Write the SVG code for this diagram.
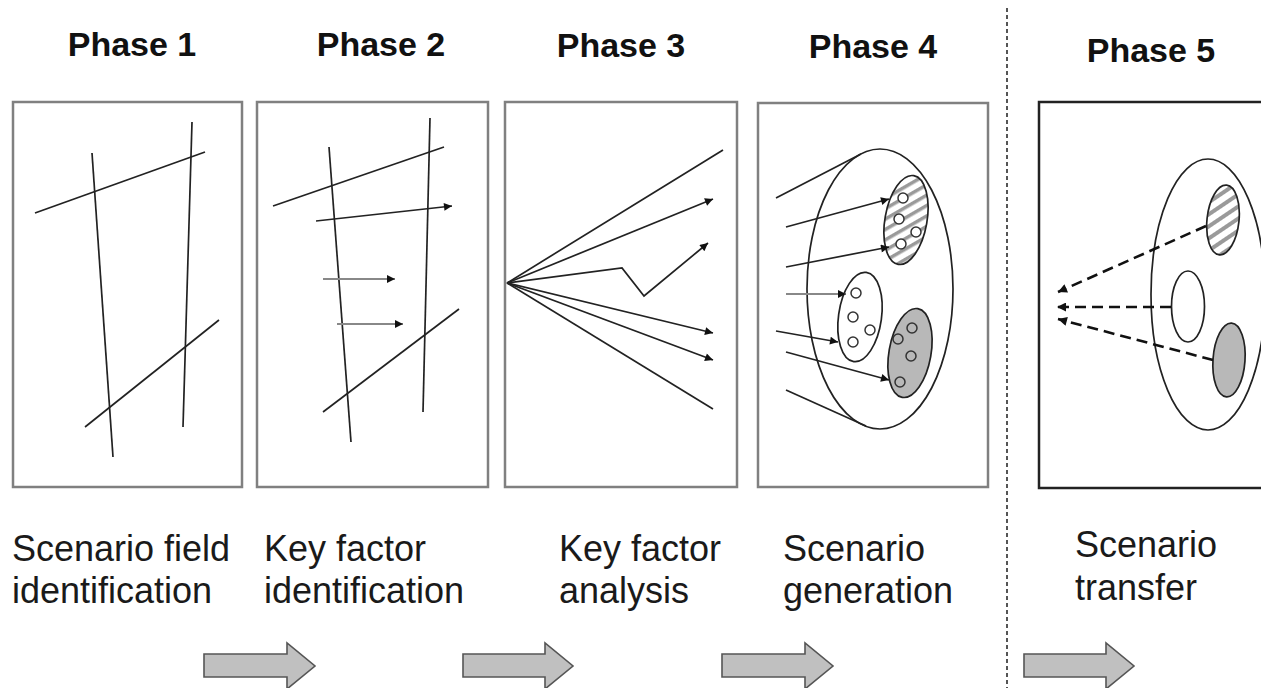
<svg xmlns="http://www.w3.org/2000/svg" width="1261" height="688" viewBox="0 0 1261 688">
<style>
.hdr{font-family:"Liberation Sans",Arial,sans-serif;font-weight:bold;font-size:34px;fill:#111;text-anchor:middle}
.lbl{font-family:"Liberation Sans",Arial,sans-serif;font-size:36px;fill:#1a1a1a}
.box{fill:#fff;stroke:#808080;stroke-width:2.5}
.box5{fill:#fff;stroke:#222;stroke-width:2.5}
.ln{stroke:#222;stroke-width:1.7;fill:none}
.ar{stroke:#222;stroke-width:1.7;fill:none;marker-end:url(#ah)}
.arg{stroke:#888;stroke-width:1.9;fill:none;marker-end:url(#ah)}
.da{stroke:#111;stroke-width:2.6;fill:none;stroke-dasharray:11 6;marker-end:url(#ah5)}
.el{fill:#fff;stroke:#222;stroke-width:1.7}
.gr{fill:#b8b8b8;stroke:#222;stroke-width:1.7}
.sc{fill:#fff;stroke:#333;stroke-width:1.5}
.scg{fill:none;stroke:#333;stroke-width:1.5}
.blk{fill:#c0c0c0;stroke:#555;stroke-width:1.6}
</style>
<defs>
<marker id="ah" markerUnits="userSpaceOnUse" viewBox="0 0 10 10" refX="10" refY="5" markerWidth="11" markerHeight="8" orient="auto">
<path d="M0,0 L10,5 L0,10 z" fill="#111"/>
</marker>
<marker id="ah5" markerUnits="userSpaceOnUse" viewBox="0 0 10 10" refX="10" refY="5" markerWidth="11" markerHeight="9" orient="auto">
<path d="M0,0 L10,5 L0,10 z" fill="#111"/>
</marker>
<pattern id="hatch" patternUnits="userSpaceOnUse" width="9" height="9" patternTransform="rotate(-40)">
<rect width="9" height="9" fill="#fff"/>
<rect width="9" height="3.5" fill="#9a9a9a"/>
</pattern>
<pattern id="hatch5" patternUnits="userSpaceOnUse" width="10" height="10" patternTransform="rotate(-40)">
<rect width="10" height="10" fill="#fff"/>
<rect width="10" height="4" fill="#9a9a9a"/>
</pattern>
</defs>

<g id="headers">
<text class="hdr" x="132" y="56">Phase 1</text>
<text class="hdr" x="381" y="56">Phase 2</text>
<text class="hdr" x="621" y="57">Phase 3</text>
<text class="hdr" x="873" y="58">Phase 4</text>
<text class="hdr" x="1151" y="62">Phase 5</text>
</g>

<g id="divider">
<line x1="1007" y1="8" x2="1007" y2="688" stroke="#555" stroke-width="2" stroke-dasharray="4 3"/>
</g>

<g id="phase1">
<rect class="box" x="13" y="102" width="229" height="385"/>
<line class="ln" x1="92" y1="153" x2="113" y2="457"/>
<line class="ln" x1="192" y1="122" x2="183" y2="427"/>
<line class="ln" x1="35" y1="213" x2="205" y2="152"/>
<line class="ln" x1="85" y1="427" x2="219" y2="320"/>
</g>

<g id="phase2">
<rect class="box" x="257" y="102" width="231" height="385"/>
<line class="ln" x1="329" y1="147" x2="351" y2="442"/>
<line class="ln" x1="430" y1="118" x2="423" y2="412"/>
<line class="ln" x1="273" y1="206" x2="444" y2="147"/>
<line class="ln" x1="323" y1="412" x2="459" y2="309"/>
<line class="ar" x1="316" y1="221" x2="452" y2="206"/>
<line class="arg" x1="323" y1="279" x2="395" y2="279"/>
<line class="arg" x1="337" y1="324" x2="403" y2="324"/>
</g>

<g id="phase3">
<rect class="box" x="505" y="102" width="232" height="385"/>
<line class="ln" x1="507" y1="283" x2="723" y2="150"/>
<line class="ar" x1="507" y1="283" x2="713" y2="199"/>
<polyline class="ar" points="507,283 622,268 644,296 708,243"/>
<line class="ar" x1="507" y1="283" x2="713" y2="333"/>
<line class="ar" x1="507" y1="283" x2="713" y2="360"/>
<line class="ln" x1="507" y1="283" x2="713" y2="409"/>
</g>

<g id="phase4">
<rect class="box" x="758" y="103" width="230" height="384"/>
<ellipse class="el" cx="880" cy="289" rx="73" ry="140"/>
<line class="ln" x1="776" y1="198" x2="861" y2="154"/>
<line class="ln" x1="786" y1="390" x2="866" y2="426"/>
<ellipse cx="906" cy="220" rx="21" ry="45" fill="url(#hatch)" stroke="#222" stroke-width="1.7" transform="rotate(10 906 220)"/>
<circle class="sc" cx="903" cy="198" r="5"/>
<circle class="sc" cx="899" cy="219" r="5"/>
<circle class="sc" cx="916" cy="232" r="5"/>
<circle class="sc" cx="901" cy="244" r="5"/>
<ellipse class="el" cx="860" cy="317" rx="21.5" ry="45" transform="rotate(8 860 317)"/>
<circle class="sc" cx="856" cy="293" r="5"/>
<circle class="sc" cx="853" cy="317" r="5"/>
<circle class="sc" cx="870" cy="330" r="5"/>
<circle class="sc" cx="853" cy="342" r="5"/>
<ellipse class="gr" cx="910" cy="353" rx="21" ry="45" transform="rotate(10 910 353)"/>
<circle class="scg" cx="912" cy="328" r="5"/>
<circle class="scg" cx="898" cy="339" r="5"/>
<circle class="scg" cx="911" cy="356" r="5"/>
<circle class="scg" cx="900" cy="382" r="5"/>
</g>

<g id="phase4-arrows">
<line class="ar" x1="786" y1="227" x2="889" y2="199"/>
<line class="ar" x1="786" y1="267" x2="889" y2="247"/>
<line class="arg" x1="786" y1="294" x2="846" y2="294"/>
<line class="ar" x1="776" y1="331" x2="838" y2="342"/>
<line class="ar" x1="786" y1="352" x2="889" y2="380"/>
</g>

<g id="phase5">
<rect class="box5" x="1039" y="102" width="240" height="386"/>
<ellipse class="el" cx="1208" cy="294.5" rx="57" ry="135.5"/>
<ellipse cx="1223" cy="220" rx="16" ry="35" fill="url(#hatch5)" stroke="#222" stroke-width="1.7" transform="rotate(6 1223 220)"/>
<ellipse class="el" cx="1188" cy="306.5" rx="16.5" ry="35.5"/>
<ellipse class="gr" cx="1229" cy="360" rx="16" ry="37" transform="rotate(4 1229 360)"/>
</g>

<g id="phase5-arrows">
<line class="da" x1="1206" y1="226" x2="1058" y2="292"/>
<line class="da" x1="1171" y1="307" x2="1057" y2="307"/>
<line class="da" x1="1213" y1="360" x2="1058" y2="319"/>
</g>

<g id="labels">
<text class="lbl" x="12" y="561">Scenario field</text>
<text class="lbl" x="12" y="603">identification</text>
<text class="lbl" x="264" y="561">Key factor</text>
<text class="lbl" x="264" y="603">identification</text>
<text class="lbl" x="559" y="561">Key factor</text>
<text class="lbl" x="559" y="603">analysis</text>
<text class="lbl" x="783" y="561">Scenario</text>
<text class="lbl" x="783" y="603">generation</text>
<text class="lbl" x="1075" y="557">Scenario</text>
<text class="lbl" x="1075" y="600">transfer</text>
</g>

<g id="flow-arrows">
<path class="blk" d="M204,654 L287,654 L287,643 L315,666 L287,689 L287,677 L204,677 Z"/>
<path class="blk" d="M463,654 L545,654 L545,643 L573,666 L545,689 L545,677 L463,677 Z"/>
<path class="blk" d="M722,654 L805,654 L805,643 L833,666 L805,689 L805,677 L722,677 Z"/>
<path class="blk" d="M1024,654 L1106,654 L1106,643 L1134,666 L1106,689 L1106,677 L1024,677 Z"/>
</g>
</svg>
